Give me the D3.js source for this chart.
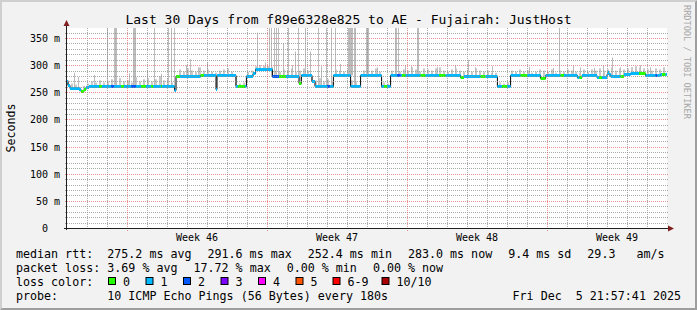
<!DOCTYPE html>
<html>
<head>
<meta charset="utf-8">
<script src="https://cdn.jsdelivr.net/npm/d3@7"></script>
<style>
  body { margin: 0; background: #f2f2f2; }
  svg { display: block; }
  text { font-family: "DejaVu Sans Mono", monospace; white-space: pre; fill: #000; }
</style>
</head>
<body>
<div id="chart"></div>
<script>
const W = 697, H = 310;
const DAY = 864e5;
const startTime = Date.UTC(2025, 10, 6), endTime = Date.UTC(2025, 11, 6);

// median rtt steps: [day from start, ms, loss colour index]
const medianSteps = [
  [0.00, 270, 1], [0.05, 263, 1], [0.15, 258, 1], [0.60, 256, 1], [0.70, 252, 0],
  [0.85, 256, 0], [0.95, 259, 1], [1.10, 262, 1], [1.60, 262, 0], [1.75, 262, 1],
  [2.20, 261, 2], [2.35, 261, 1], [2.70, 262, 0], [2.85, 262, 1], [3.20, 262, 2],
  [3.45, 262, 1], [3.70, 261, 0], [3.95, 261, 1], [4.20, 262, 0], [4.30, 262, 1],
  [4.70, 261, 0], [4.75, 261, 1], [5.38, 255, 1], [5.45, 280, 0], [5.65, 280, 1],
  [6.68, 281, 0], [6.85, 281, 1], [7.45, 256, 1], [7.50, 281, 1], [8.45, 262, 1],
  [8.55, 262, 0], [8.90, 262, 1], [8.97, 280, 1], [9.30, 286, 1], [9.43, 292, 1],
  [10.27, 280, 2], [10.60, 280, 0], [10.95, 280, 1], [11.60, 268, 0], [11.72, 281, 1],
  [12.25, 270, 1], [12.40, 262, 1], [13.00, 262, 2], [13.15, 262, 1], [13.32, 281, 1],
  [14.18, 262, 1], [14.68, 281, 1], [15.73, 262, 1], [15.85, 262, 0], [16.00, 262, 1],
  [16.18, 281, 1], [16.50, 281, 2], [16.68, 281, 1], [16.75, 282, 0], [16.93, 282, 1],
  [17.68, 282, 0], [17.93, 282, 1], [18.60, 282, 0], [18.93, 282, 1], [19.68, 278, 0],
  [19.85, 280, 1], [20.68, 280, 0], [20.93, 280, 1], [21.52, 262, 1], [21.75, 262, 0],
  [22.00, 262, 1], [22.18, 281, 1], [22.68, 281, 0], [23.00, 281, 1], [23.68, 277, 0],
  [23.93, 281, 1], [24.68, 281, 0], [24.85, 281, 1], [25.52, 278, 1], [25.62, 278, 0],
  [25.75, 281, 1], [26.50, 279, 1], [26.60, 279, 0], [26.75, 279, 1], [27.00, 283, 1],
  [27.05, 287, 1], [27.10, 283, 1], [27.19, 280, 1], [27.68, 280, 0], [27.85, 283, 1],
  [28.18, 286, 1], [28.60, 286, 0], [28.93, 281, 1], [29.43, 281, 2], [29.52, 281, 1],
  [29.68, 283, 1], [29.75, 283, 0], [29.93, 283, 1]
];

// upper edge of the dense smoke, one value every 0.2 day
const smokeTop = [
  272, 266, 264, 260, 262,  266, 270, 268, 272, 268,
  270, 274, 268, 276, 270,  272, 268, 278, 270, 274,
  276, 270, 274, 280, 272,  276, 268, 262, 292, 288,
  294, 290, 288, 296, 290,  292, 288, 286, 290, 292,
  294, 288, 280, 266, 268,  288, 290, 298, 300, 299,
  298, 297, 290, 288, 292,  290, 294, 288, 290, 294,
  290, 278, 272, 276, 270,  274, 270, 292, 290, 288,
  292, 272, 270, 268, 290,  292, 290, 294, 288, 268,
  266, 290, 294, 288, 292,  290, 296, 292, 288, 294,
  292, 290, 294, 296, 290,  288, 292, 294, 290, 288,
  292, 288, 294, 290, 288,  290, 286, 286, 268, 266,
  268, 290, 288, 292, 288,  290, 286, 288, 292, 290,
  288, 292, 286, 290, 288,  292, 290, 288, 286, 292,
  288, 292, 290, 294, 290,  292, 296, 290, 294, 292,
  294, 296, 298, 296, 294,  292, 290, 294, 292, 296
];

// single pings far above the median: [from day, to day, top ms]
const smokeSpikes = [
  [0.35, 0.35, 286], [0.55, 0.55, 278], [1.35, 1.35, 282], [2.03, 2.03, 400], [2.35, 2.50, 400],
  [3.10, 3.10, 285], [3.30, 3.45, 400], [4.00, 4.00, 290], [4.35, 4.35, 400], [4.70, 4.70, 284],
  [5.05, 5.05, 400], [5.20, 5.20, 400], [5.38, 5.38, 400], [5.95, 5.95, 300], [6.18, 6.18, 311],
  [6.55, 6.55, 296], [7.00, 7.00, 305], [9.53, 9.53, 360], [9.90, 9.90, 305], [10.13, 10.13, 400],
  [10.20, 10.20, 400], [10.35, 10.35, 400], [10.48, 10.48, 400], [10.58, 10.58, 400], [10.82, 10.82, 340],
  [11.08, 11.08, 400], [11.25, 11.25, 300], [11.40, 11.40, 325], [11.57, 11.57, 400], [11.93, 11.93, 400],
  [12.18, 12.18, 325], [12.55, 12.55, 400], [12.75, 12.75, 298], [12.98, 12.98, 400], [13.23, 13.23, 400],
  [13.40, 13.40, 400], [13.65, 13.65, 302], [14.05, 14.30, 400], [14.38, 14.50, 400], [14.95, 15.10, 400],
  [15.50, 15.50, 296], [16.43, 16.52, 400], [16.58, 16.65, 400], [16.90, 16.90, 300], [17.20, 17.20, 298],
  [17.50, 17.60, 400], [18.55, 18.55, 297], [19.40, 19.40, 300], [20.05, 20.05, 310], [20.40, 20.40, 296],
  [21.25, 21.25, 298], [23.15, 23.15, 297], [24.30, 24.30, 295], [24.60, 24.60, 400], [25.32, 25.32, 299],
  [25.65, 25.65, 296], [26.35, 26.35, 295], [26.80, 26.80, 300], [27.28, 27.28, 314], [27.65, 27.65, 296],
  [28.65, 28.65, 300], [29.15, 29.15, 296]
];

const yTicks = [0, 50, 100, 150, 200, 250, 300, 350];
const yTickLabels = ["0", "50 m", "100 m", "150 m", "200 m", "250 m", "300 m", "350 m"];
const lossColors = ["#26ff00", "#00b8ff", "#0059ff", "#7e00ff", "#ff00ff", "#ff5500", "#ff0000", "#a80000"];
const lossLabels = ["0", "1", "2", "3", "4", "5", "6-9", "10/10"];
const rttStats = ["275.2 ms avg", "291.6 ms max", "252.4 ms min", "283.0 ms now", "9.4 ms sd", "29.3   am/s"];
const lossStats = ["3.69 % avg", "17.72 % max", "0.00 % min", "0.00 % now"];
const titleText = "Last 30 Days from f89e6328e825 to AE - Fujairah: JustHost";
const probeText = "10 ICMP Echo Pings (56 Bytes) every 180s";
const stampText = "Fri Dec  5 21:57:41 2025";

// layout
const L = 67, R = 667, T = 28, B = 228;
const lossBoxX = [108, 145.5, 183, 220.5, 258, 295.5, 332.5, 381.5];

const svg = d3.select("#chart").append("svg").attr("width", W).attr("height", H);

svg.append("rect").attr("width", W).attr("height", H).attr("fill", "#f2f2f2");
svg.append("path").attr("fill", "#cfcfcf")
  .attr("d", `M0,0H${W}L${W - 2},2H2V${H - 2}L0,${H}Z`);
svg.append("path").attr("fill", "#9e9e9e")
  .attr("d", `M${W},0V${H}H0L2,${H - 2}H${W - 2}V2Z`);

const x = d3.scaleTime().domain([new Date(startTime), new Date(endTime)]).range([L, R]);
const y = d3.scaleLinear().domain([0, 368.4]).range([B, T]);
const atDay = d => new Date(startTime + d * DAY);
const row = v => Math.round(y(v)) + 0.5;
const col = t => Math.round(x(t)) + 0.5;

function medianAt(d) {
  let v = medianSteps[0][1];
  for (const s of medianSteps) { if (s[0] <= d) v = s[1]; else break; }
  return v;
}

svg.append("defs").append("clipPath").attr("id", "plot")
  .append("rect").attr("x", L).attr("y", T).attr("width", R - L).attr("height", B - T);

svg.append("rect").attr("x", L).attr("y", T).attr("width", R - L).attr("height", B - T).attr("fill", "#fff");

const g = svg.append("g").attr("clip-path", "url(#plot)");

// smoke
g.append("g").selectAll("rect").data(smokeTop).join("rect")
  .attr("x", (v, i) => x(atDay(i * 0.2)))
  .attr("width", 2)
  .attr("y", v => y(v))
  .attr("height", (v, i) => Math.max(0, y(medianAt(i * 0.2 + 0.1)) - y(v)))
  .attr("fill", "#c8c8c8");

g.append("g").selectAll("rect").data(smokeSpikes).join("rect")
  .attr("x", d => Math.floor(x(atDay(d[0]))))
  .attr("width", d => Math.max(1, Math.round(x(atDay(d[1])) - x(atDay(d[0])))))
  .attr("y", d => Math.max(T, y(d[2])))
  .attr("height", d => Math.max(0, y(medianAt(d[0])) - Math.max(T, y(d[2]))))
  .attr("fill", "#bcbcbc");

// grid
const minorColor = "rgba(143,143,143,0.75)", majorColor = "rgba(222,79,79,0.6)";
const grid = svg.append("g").attr("fill", "none").attr("stroke-width", 1);
const minorRows = d3.range(10, 370, 10).filter(v => v % 50 !== 0);
const majorRows = yTicks.filter(v => v > 0);
const minorCols = d3.utcDay.range(new Date(startTime + 1), new Date(endTime))
  .filter(t => t.getUTCDay() !== 0);
const majorCols = d3.utcSunday.range(new Date(startTime + 1), new Date(endTime));

grid.selectAll(".hmin").data(minorRows).join("line")
  .attr("x1", L - 2).attr("x2", R + 1).attr("y1", row).attr("y2", row)
  .attr("stroke", minorColor).attr("stroke-dasharray", "1,1");
grid.selectAll(".hmaj").data(majorRows).join("line")
  .attr("x1", L - 2).attr("x2", R + 1).attr("y1", row).attr("y2", row)
  .attr("stroke", majorColor).attr("stroke-dasharray", "1,1");
grid.selectAll(".vmin").data(minorCols).join("line")
  .attr("x1", col).attr("x2", col).attr("y1", T).attr("y2", B + 2)
  .attr("stroke", minorColor).attr("stroke-dasharray", "1,1");
grid.selectAll(".vmaj").data(majorCols).join("line")
  .attr("x1", col).attr("x2", col).attr("y1", T).attr("y2", B + 3)
  .attr("stroke", majorColor).attr("stroke-dasharray", "1,1");

// median line: black steps under loss-coloured segments
const stepPts = medianSteps.concat([[30, medianSteps[medianSteps.length - 1][1]]]);
g.append("path")
  .attr("d", d3.line().curve(d3.curveStepAfter)
    .x(d => x(atDay(d[0]))).y(d => Math.round(y(d[1])) + 0.5)(stepPts))
  .attr("fill", "none").attr("stroke", "#000").attr("stroke-width", 1);

g.append("g").selectAll("rect").data(medianSteps).join("rect")
  .attr("x", d => x(atDay(d[0])))
  .attr("width", (d, i) => x(atDay(stepPts[i + 1][0])) - x(atDay(d[0])))
  .attr("y", d => Math.round(y(d[1])) - 1)
  .attr("height", 3)
  .attr("fill", d => lossColors[d[2]]);

// axes and arrows
svg.append("line").attr("x1", L - 0.5).attr("x2", L - 0.5).attr("y1", B + 2).attr("y2", T - 3)
  .attr("stroke", "#1f1f1f");
svg.append("line").attr("x1", L - 3).attr("x2", R + 2).attr("y1", B + 0.5).attr("y2", B + 0.5)
  .attr("stroke", "#1f1f1f");
svg.append("path").attr("fill", "#801f1f")
  .attr("d", `M${L - 0.5},${T - 8}L${L + 2.5},${T - 2}H${L - 3.5}Z`);
svg.append("path").attr("fill", "#801f1f")
  .attr("d", `M${R + 7},${B + 0.5}L${R + 1},${B + 3.5}V${B - 2.5}Z`);

// y labels
svg.append("g").selectAll("text").data(yTicks).join("text")
  .attr("x", v => v === 0 ? 48 : 60)
  .attr("y", v => Math.round(y(v)) + 4)
  .attr("text-anchor", "end").attr("font-size", 10)
  .text((v, i) => yTickLabels[i]);

// week labels
svg.append("g").selectAll("text").data(majorCols).join("text")
  .attr("x", t => x(new Date(+t + 3.5 * DAY)))
  .attr("y", 241)
  .attr("text-anchor", "middle").attr("font-size", 10)
  .text(t => d3.utcFormat("Week %V")(new Date(+t + 3.5 * DAY)));

// title, unit, watermark
svg.append("text").attr("x", W / 2).attr("y", 24).attr("text-anchor", "middle")
  .attr("font-size", 13).text(titleText);
svg.append("text").attr("transform", `translate(15,${(T + B) / 2}) rotate(-90)`)
  .attr("text-anchor", "middle").attr("font-size", 11.6).text("Seconds");
svg.append("text").attr("transform", "translate(684,5) rotate(90)")
  .attr("font-size", 8.6).style("fill", "#a8a8a8").text("RRDTOOL / TOBI OETIKER");

// legend
const fs = 11.66, gap = 16;
function legendLine(label, items, yb) {
  svg.append("text").attr("x", 16).attr("y", yb).attr("font-size", fs).text(label);
  let cx = 107.3;
  items.forEach(s => {
    const t = svg.append("text").attr("x", cx).attr("y", yb).attr("font-size", fs).text(s);
    cx += t.node().getComputedTextLength() + gap;
  });
}
legendLine("median rtt:", rttStats, 257.5);
legendLine("packet loss:", lossStats, 271.5);

svg.append("text").attr("x", 16).attr("y", 285.5).attr("font-size", fs).text("loss color:");
const lg = svg.append("g").selectAll("g").data(lossLabels).join("g");
lg.append("rect")
  .attr("x", (d, i) => lossBoxX[i] + 0.5).attr("y", 277.5)
  .attr("width", 7).attr("height", 7)
  .attr("fill", (d, i) => lossColors[i]).attr("stroke", "#000");
lg.append("text")
  .attr("x", (d, i) => lossBoxX[i] + 15).attr("y", 285.5)
  .attr("font-size", fs).text(d => d);

svg.append("text").attr("x", 16).attr("y", 299.5).attr("font-size", fs).text("probe:");
svg.append("text").attr("x", 107.3).attr("y", 299.5).attr("font-size", fs).text(probeText);
svg.append("text").attr("x", 681).attr("y", 299.5).attr("text-anchor", "end")
  .attr("font-size", fs).text(stampText);
</script>
</body>
</html>
